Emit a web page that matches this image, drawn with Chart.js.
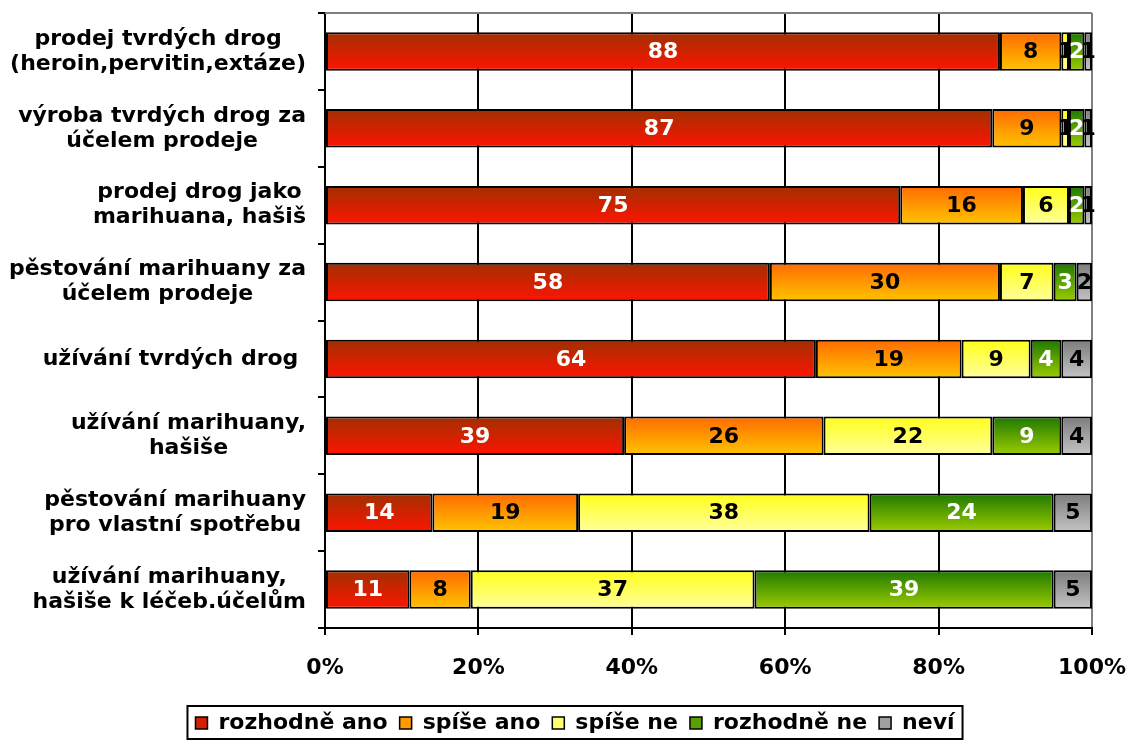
<!DOCTYPE html>
<html>
<head>
<meta charset="utf-8">
<script src="https://cdn.jsdelivr.net/npm/chart.js@4.4.1/dist/chart.umd.min.js"></script>
<style>
  html, body { margin: 0; padding: 0; background: #fff; }
  canvas { display: block; }
</style>
</head>
<body>
<canvas id="drugChart" width="1132" height="740"></canvas>
<script>
const categories = [
  ['prodej tvrdých drog', '(heroin,pervitin,extáze)'],
  ['výroba tvrdých drog za', 'účelem prodeje'],
  ['prodej drog jako', 'marihuana, hašiš'],
  ['pěstování marihuany za', 'účelem prodeje'],
  ['užívání tvrdých drog '],
  ['užívání marihuany,', 'hašiše'],
  ['pěstování marihuany', 'pro vlastní spotřebu'],
  ['užívání marihuany,', 'hašiše k léčeb.účelům']
];
const seriesNames = ['rozhodně ano', 'spíše ano', 'spíše ne', 'rozhodně ne', 'neví'];
const rozhodneAno = [88, 87, 75, 58, 64, 39, 14, 11];
const spiseAno = [8, 9, 16, 30, 19, 26, 19, 8];
const spiseNe = [1, 1, 6, 7, 9, 22, 38, 37];
const rozhodneNe = [2, 2, 2, 3, 4, 9, 24, 39];
const nevi = [1, 1, 1, 2, 4, 4, 5, 5];
const xTickValues = [0, 20, 40, 60, 80, 100];

// gradient top -> bottom for each series, plus flat legend colour and label colour
const gradients = [
  ['#a03000', '#ff1400'],
  ['#ff6a00', '#ffc400'],
  ['#ffff1a', '#ffff9c'],
  ['#1e7800', '#9ccc00'],
  ['#7c7c7c', '#c4c4c4']
];
const legendColors = ['#d42000', '#ff9a00', '#ffff70', '#5aa000', '#a0a0a0'];
const labelColors = ['#fff', '#000', '#000', '#fff', '#000'];

const FONT = '"DejaVu Sans", Verdana, sans-serif';
const FONT_SIZE = 22;
const BAR_FRACTION = 0.5;
const PAD_LEFT = 58;

Chart.defaults.font.family = FONT;
Chart.defaults.font.weight = 'bold';
Chart.defaults.font.size = FONT_SIZE;
Chart.defaults.color = '#000';

function barFill(si) {
  return function (ctx) {
    const chart = ctx.chart;
    const area = chart.chartArea;
    const y = chart.scales.y;
    if (!area || !y || ctx.type !== 'data') return legendColors[si];
    const c = y.getPixelForValue(ctx.dataIndex);
    const half = (area.bottom - area.top) / categories.length * BAR_FRACTION / 2;
    const g = chart.ctx.createLinearGradient(0, c - half, 0, c + half);
    g.addColorStop(0, gradients[si][0]);
    g.addColorStop(1, gradients[si][1]);
    return g;
  };
}

const allSeries = [rozhodneAno, spiseAno, spiseNe, rozhodneNe, nevi];

const datasets = allSeries.map(function (values, si) {
  return {
    label: seriesNames[si],
    data: values,
    backgroundColor: barFill(si),
    borderColor: '#000',
    borderWidth: 2,
    borderSkipped: false,
    categoryPercentage: 1,
    barPercentage: BAR_FRACTION
  };
});

const segmentLabels = {
  id: 'segmentLabels',
  afterDatasetsDraw(chart) {
    const ctx = chart.ctx;
    ctx.save();
    ctx.font = 'bold ' + FONT_SIZE + 'px ' + FONT;
    ctx.textAlign = 'center';
    ctx.textBaseline = 'middle';
    chart.data.datasets.forEach(function (ds, di) {
      const meta = chart.getDatasetMeta(di);
      meta.data.forEach(function (bar, i) {
        ctx.fillStyle = labelColors[di];
        ctx.fillText(String(ds.data[i]), (bar.x + bar.base) / 2, bar.y + 1);
      });
    });
    ctx.restore();
  }
};

const categoryLabels = {
  id: 'categoryLabels',
  afterDraw(chart) {
    const ctx = chart.ctx;
    const y = chart.scales.y;
    const right = chart.chartArea.left - 19;
    const lineH = 25;
    ctx.save();
    ctx.font = 'bold ' + FONT_SIZE + 'px ' + FONT;
    ctx.fillStyle = '#000';
    ctx.textAlign = 'center';
    ctx.textBaseline = 'middle';
    categories.forEach(function (lines, i) {
      const w = Math.max.apply(null, lines.map(function (l) { return ctx.measureText(l).width; }));
      const cx = right - w / 2;
      const y0 = y.getPixelForTick(i) - (lines.length - 1) * lineH / 2;
      lines.forEach(function (l, k) {
        ctx.fillText(l, cx, y0 + k * lineH);
      });
    });
    ctx.restore();
  }
};

const frame = {
  id: 'frame',
  afterDraw(chart) {
    const ctx = chart.ctx;
    const a = chart.chartArea;
    ctx.save();
    ctx.strokeStyle = '#808080';
    ctx.lineWidth = 2;
    ctx.beginPath();
    ctx.moveTo(a.left, a.top);
    ctx.lineTo(a.right, a.top);
    ctx.stroke();

    // box around the legend items
    const lg = chart.legend;
    if (lg && lg.legendHitBoxes && lg.legendHitBoxes.length) {
      const boxes = lg.legendHitBoxes;
      const l = boxes[0].left - 8;
      const last = boxes[boxes.length - 1];
      const r = last.left + last.width + 8;
      const t = 706;
      ctx.strokeStyle = '#000';
      ctx.lineWidth = 2;
      ctx.strokeRect(l, t, r - l, 739 - t);
    }
    ctx.restore();
  }
};

new Chart(document.getElementById('drugChart'), {
  type: 'bar',
  data: {
    labels: categories,
    datasets: datasets
  },
  plugins: [segmentLabels, categoryLabels, frame],
  options: {
    indexAxis: 'y',
    responsive: false,
    animation: false,
    layout: { padding: { top: 13, right: 40, left: PAD_LEFT, bottom: -4 } },
    plugins: {
      tooltip: { enabled: false },
      legend: {
        position: 'bottom',
        labels: {
          boxWidth: 12,
          boxHeight: 12,
          padding: 12,
          font: { size: FONT_SIZE, weight: 'bold', family: FONT },
          color: '#000',
          generateLabels: function (chart) {
            return chart.data.datasets.map(function (ds, i) {
              return {
                text: ds.label,
                fillStyle: legendColors[i],
                strokeStyle: '#000',
                lineWidth: 1.5,
                hidden: false,
                datasetIndex: i
              };
            });
          }
        }
      }
    },
    scales: {
      x: {
        stacked: true,
        min: 0,
        max: 100,
        afterBuildTicks: function (scale) {
          scale.ticks = xTickValues.map(function (v) { return { value: v }; });
        },
        afterFit: function (scale) {
          scale.height = 744 - 628 - 44;
          scale.paddingLeft = 0;
          scale.paddingRight = 0;
        },
        ticks: {
          padding: 20,
          callback: function (v) { return v + '%'; },
          font: { size: FONT_SIZE, weight: 'bold', family: FONT },
          color: '#000',
          maxRotation: 0
        },
        grid: {
          color: function (ctx) { return ctx.tick && ctx.tick.value === 100 ? '#808080' : '#000'; },
          tickColor: '#000',
          lineWidth: 2,
          tickLength: 7
        },
        border: { display: true, color: '#000', width: 2 }
      },
      y: {
        stacked: true,
        afterFit: function (scale) {
          scale.width = 325 - PAD_LEFT;
        },
        ticks: { display: false },
        grid: {
          offset: true,
          drawOnChartArea: false,
          color: '#000',
          lineWidth: 2,
          tickLength: 7
        },
        border: { display: true, color: '#000', width: 2 }
      }
    }
  }
});
</script>
</body>
</html>
